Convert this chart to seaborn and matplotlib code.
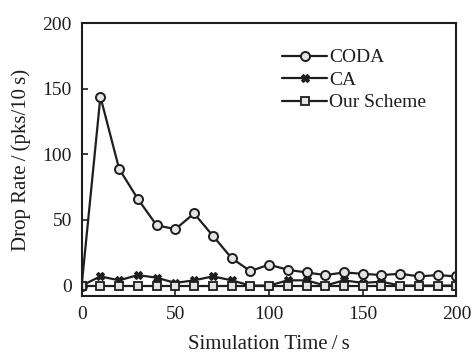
import numpy as np
import pandas as pd
import matplotlib
matplotlib.use("Agg")
import matplotlib.pyplot as plt
import seaborn as sns

time_s = list(range(0, 201, 10))
coda = [0, 144, 89, 66, 46, 43, 55, 38, 21, 11, 16, 12, 10, 8, 10, 9, 8, 9, 7, 8, 7]
ca = [0, 7, 4, 8, 6, 2, 4, 7, 4, 0, 0, 4, 4, 0, 4, 2, 3, 0, 0, 0, 0]
our_scheme = [0] * 21

series_names = ["CODA", "CA", "Our Scheme"]

df = pd.DataFrame({
    "Time": time_s * 3,
    "Rate": coda + ca + our_scheme,
    "Scheme": sum([[n] * len(time_s) for n in series_names], []),
})

sns.set_style("ticks")
plt.rcParams['font.family'] = ['Liberation Serif', 'DejaVu Serif']
plt.rcParams['xtick.direction'] = 'in'
plt.rcParams['ytick.direction'] = 'in'

ink = "#1e1e1e"
fig = plt.figure(figsize=(4.72, 3.58), dpi=100)
ax = fig.add_axes([0.173, 0.173, 0.794, 0.762])

markers = {"CODA": "o", "CA": "X", "Our Scheme": "s"}
mstyle = {
    "CODA": dict(markersize=6.5, markerfacecolor="#e4e4e4", markeredgewidth=1.4),
    "CA": dict(markersize=6, markerfacecolor=ink, markeredgewidth=0.8),
    "Our Scheme": dict(markersize=5.5, markerfacecolor="#e4e4e4", markeredgewidth=1.3),
}
for name in series_names:
    sub = df[df["Scheme"] == name]
    sns.lineplot(data=sub, x="Time", y="Rate", ax=ax, color=ink, linewidth=1.6,
                 marker=markers[name], markeredgecolor=ink, label=name,
                 **mstyle[name])

ax.set_xlim(0, 200)
ax.set_ylim(-8, 200)
ax.set_xticks([0, 50, 100, 150, 200])
ax.set_yticks([0, 50, 100, 150, 200])
ax.tick_params(labelsize=14, colors=ink, length=4, width=1.2, pad=7)
for s in ax.spines.values():
    s.set_linewidth(1.5)
    s.set_color(ink)

ax.set_xlabel("Simulation Time\u2009/\u2009s", fontsize=15, color=ink, labelpad=9)
ax.set_ylabel("Drop Rate\u2009/\u2009(pks/10\u2009s)", fontsize=15, color=ink, labelpad=8)

leg = ax.legend(loc="upper left", bbox_to_anchor=(0.515, 0.935), frameon=False,
                fontsize=14, handlelength=2.3, handletextpad=0.1,
                labelspacing=0.25, borderaxespad=0)
for t in leg.get_texts():
    t.set_color(ink)

fig.savefig("out.png", dpi=100)
